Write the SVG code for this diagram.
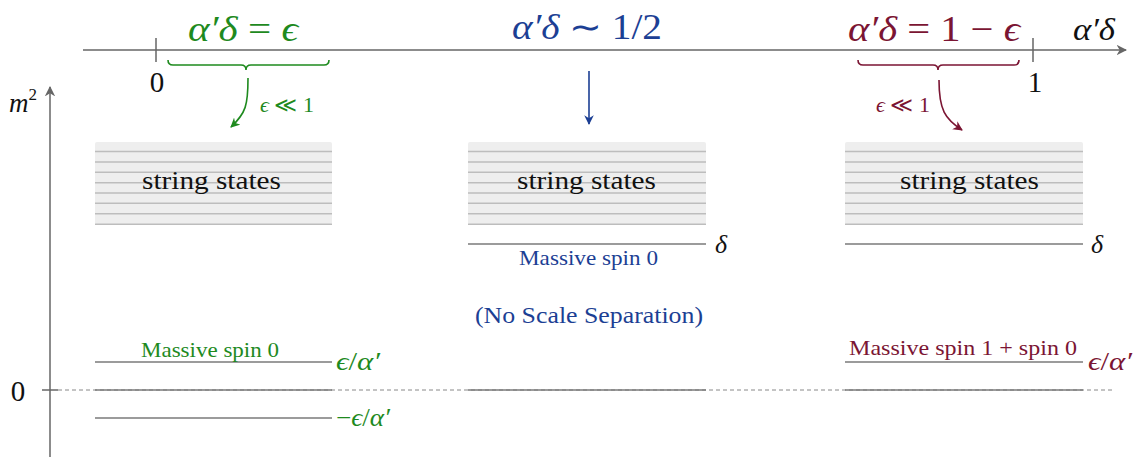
<svg xmlns="http://www.w3.org/2000/svg" width="1137" height="457" viewBox="0 0 1137 457" font-family="'Liberation Serif', 'Times New Roman', serif">
<style>
text{font-family:'Liberation Serif','Times New Roman',serif;}
.i{font-style:italic;}
.ax{stroke:#666;stroke-width:1.5;fill:none;}
.box{fill:#eeeeee;}
.hl{stroke:#bdbdbd;stroke-width:1.5;}
.lvl{stroke:#7a7a7a;stroke-width:1.6;}
.g{fill:#1e8a1e;}
.b{fill:#1c3f94;}
.r{fill:#7b1533;}
.k{fill:#111;}
</style>
<defs>
<marker id="ahG" viewBox="0 0 10 10" refX="9" refY="5" markerWidth="6" markerHeight="6" orient="auto"><path d="M0,0 L10,5 L0,10 L3,5 z" fill="#1e8a1e"/></marker>
<marker id="ahB" viewBox="0 0 10 10" refX="9" refY="5" markerWidth="6" markerHeight="6" orient="auto"><path d="M0,0 L10,5 L0,10 L3,5 z" fill="#1c3f94"/></marker>
<marker id="ahR" viewBox="0 0 10 10" refX="9" refY="5" markerWidth="6" markerHeight="6" orient="auto"><path d="M0,0 L10,5 L0,10 L3,5 z" fill="#7b1533"/></marker>
<marker id="ahK" viewBox="0 0 10 10" refX="9" refY="5" markerWidth="7" markerHeight="7" orient="auto"><path d="M0,0 L10,5 L0,10 L3,5 z" fill="#666"/></marker>
</defs>
<rect width="1137" height="457" fill="#fff"/>

<g id="axes">
<line class="ax" x1="83" y1="50" x2="1126" y2="50" marker-end="url(#ahK)"/>
<line class="ax" x1="156" y1="38" x2="156" y2="62"/>
<line class="ax" x1="1033" y1="38" x2="1033" y2="62"/>
<line class="ax" x1="50" y1="457" x2="50" y2="87" marker-end="url(#ahK)"/>
<line class="ax" x1="42" y1="390" x2="58" y2="390"/>
<line x1="58" y1="390" x2="1115" y2="390" stroke="#888" stroke-width="1" stroke-dasharray="4 3"/>
<text class="k" x="157" y="92" font-size="29" text-anchor="middle">0</text>
<text class="k" x="1035" y="92" font-size="29" text-anchor="middle">1</text>
<text class="k i" x="1073" y="40" font-size="31" textLength="42" lengthAdjust="spacingAndGlyphs">α′δ</text>
<text class="k i" x="9" y="112" font-size="27">m<tspan font-style="normal" font-size="17" dy="-12">2</tspan></text>
<text class="k" x="18" y="401" font-size="29" text-anchor="middle">0</text>
</g>

<g id="label-left">
<text class="g" x="188" y="41" font-size="35" textLength="110" lengthAdjust="spacingAndGlyphs"><tspan font-style="italic">α′δ</tspan> = <tspan font-style="italic">ϵ</tspan></text>
<text class="g" x="260" y="112" font-size="21" textLength="54" lengthAdjust="spacingAndGlyphs"><tspan font-style="italic">ϵ</tspan> ≪ 1</text>
</g>

<g id="label-mid">
<text class="b" x="512" y="39" font-size="35" textLength="150" lengthAdjust="spacingAndGlyphs"><tspan font-style="italic">α′δ</tspan> ∼ 1/2</text>
</g>

<g id="label-right">
<text class="r" x="848" y="41" font-size="35" textLength="172" lengthAdjust="spacingAndGlyphs"><tspan font-style="italic">α′δ</tspan> = 1 − <tspan font-style="italic">ϵ</tspan></text>
<text class="r" x="876" y="112" font-size="21" textLength="54" lengthAdjust="spacingAndGlyphs"><tspan font-style="italic">ϵ</tspan> ≪ 1</text>
</g>

<g id="box-left">
<rect class="box" x="95" y="142" width="237" height="82.5" rx="2"/>
<g class="hl">
<line x1="95" y1="151.5" x2="332" y2="151.5"/><line x1="95" y1="162" x2="332" y2="162"/>
<line x1="95" y1="172.3" x2="332" y2="172.3"/><line x1="95" y1="182.7" x2="332" y2="182.7"/>
<line x1="95" y1="193" x2="332" y2="193"/><line x1="95" y1="203.3" x2="332" y2="203.3"/>
<line x1="95" y1="213.7" x2="332" y2="213.7"/><line x1="95" y1="224.3" x2="332" y2="224.3"/>
</g>
<text class="k" x="142" y="189" font-size="26" textLength="139" lengthAdjust="spacingAndGlyphs">string states</text>
</g>

<g id="box-mid">
<rect class="box" x="468" y="142" width="238" height="82.5" rx="2"/>
<g class="hl">
<line x1="468" y1="151.5" x2="706" y2="151.5"/><line x1="468" y1="162" x2="706" y2="162"/>
<line x1="468" y1="172.3" x2="706" y2="172.3"/><line x1="468" y1="182.7" x2="706" y2="182.7"/>
<line x1="468" y1="193" x2="706" y2="193"/><line x1="468" y1="203.3" x2="706" y2="203.3"/>
<line x1="468" y1="213.7" x2="706" y2="213.7"/><line x1="468" y1="224.3" x2="706" y2="224.3"/>
</g>
<text class="k" x="517" y="189" font-size="26" textLength="139" lengthAdjust="spacingAndGlyphs">string states</text>
</g>

<g id="box-right">
<rect class="box" x="845" y="142" width="238" height="82.5" rx="2"/>
<g class="hl">
<line x1="845" y1="151.5" x2="1083" y2="151.5"/><line x1="845" y1="162" x2="1083" y2="162"/>
<line x1="845" y1="172.3" x2="1083" y2="172.3"/><line x1="845" y1="182.7" x2="1083" y2="182.7"/>
<line x1="845" y1="193" x2="1083" y2="193"/><line x1="845" y1="203.3" x2="1083" y2="203.3"/>
<line x1="845" y1="213.7" x2="1083" y2="213.7"/><line x1="845" y1="224.3" x2="1083" y2="224.3"/>
</g>
<text class="k" x="900" y="189" font-size="26" textLength="139" lengthAdjust="spacingAndGlyphs">string states</text>
</g>

<g id="levels-left">
<line class="lvl" x1="95" y1="362" x2="332" y2="362"/>
<line class="lvl" x1="95" y1="390" x2="332" y2="390"/>
<line class="lvl" x1="95" y1="418" x2="332" y2="418"/>
<text class="g" x="141" y="357" font-size="22" textLength="138" lengthAdjust="spacingAndGlyphs">Massive spin 0</text>
<text class="g" x="336" y="370" font-size="25" textLength="44" lengthAdjust="spacingAndGlyphs"><tspan font-style="italic">ϵ</tspan>/<tspan font-style="italic">α′</tspan></text>
<text class="g" x="336" y="426" font-size="25" textLength="54" lengthAdjust="spacingAndGlyphs">−<tspan font-style="italic">ϵ</tspan>/<tspan font-style="italic">α′</tspan></text>
</g>

<g id="levels-mid">
<line class="lvl" x1="468" y1="244" x2="706" y2="244"/>
<line class="lvl" x1="468" y1="390" x2="706" y2="390"/>
<text class="k i" x="715" y="253" font-size="26">δ</text>
<text class="b" x="519" y="265" font-size="22" textLength="139" lengthAdjust="spacingAndGlyphs">Massive spin 0</text>
<text class="b" x="475" y="323" font-size="24" textLength="228" lengthAdjust="spacingAndGlyphs">(No Scale Separation)</text>
</g>

<g id="levels-right">
<line class="lvl" x1="845" y1="244" x2="1083" y2="244"/>
<line class="lvl" x1="845" y1="362" x2="1083" y2="362"/>
<line class="lvl" x1="845" y1="390" x2="1083" y2="390"/>
<text class="k i" x="1091" y="253" font-size="26">δ</text>
<text class="r" x="849" y="355" font-size="22" textLength="228" lengthAdjust="spacingAndGlyphs">Massive spin 1 + spin 0</text>
<text class="r" x="1088" y="370" font-size="25" textLength="44" lengthAdjust="spacingAndGlyphs"><tspan font-style="italic">ϵ</tspan>/<tspan font-style="italic">α′</tspan></text>
</g>

<g id="connectors" fill="none" stroke-width="1.6">
<path d="M168,60 q0,5 5,5 L241,65 q5,0 5,5 q0,-5 5,-5 L324,65 q5,0 5,-5" stroke="#1e8a1e"/>
<path d="M248,78 C248,105 246,113 231,127" stroke="#1e8a1e" marker-end="url(#ahG)"/>
<path d="M589,71 L589,124" stroke="#1c3f94" marker-end="url(#ahB)"/>
<path d="M858,60 q0,5 5,5 L933,65 q5,0 5,5 q0,-5 5,-5 L1014,65 q5,0 5,-5" stroke="#7b1533"/>
<path d="M939,80 C939,110 945,119 962,130" stroke="#7b1533" marker-end="url(#ahR)"/>
</g>
</svg>
